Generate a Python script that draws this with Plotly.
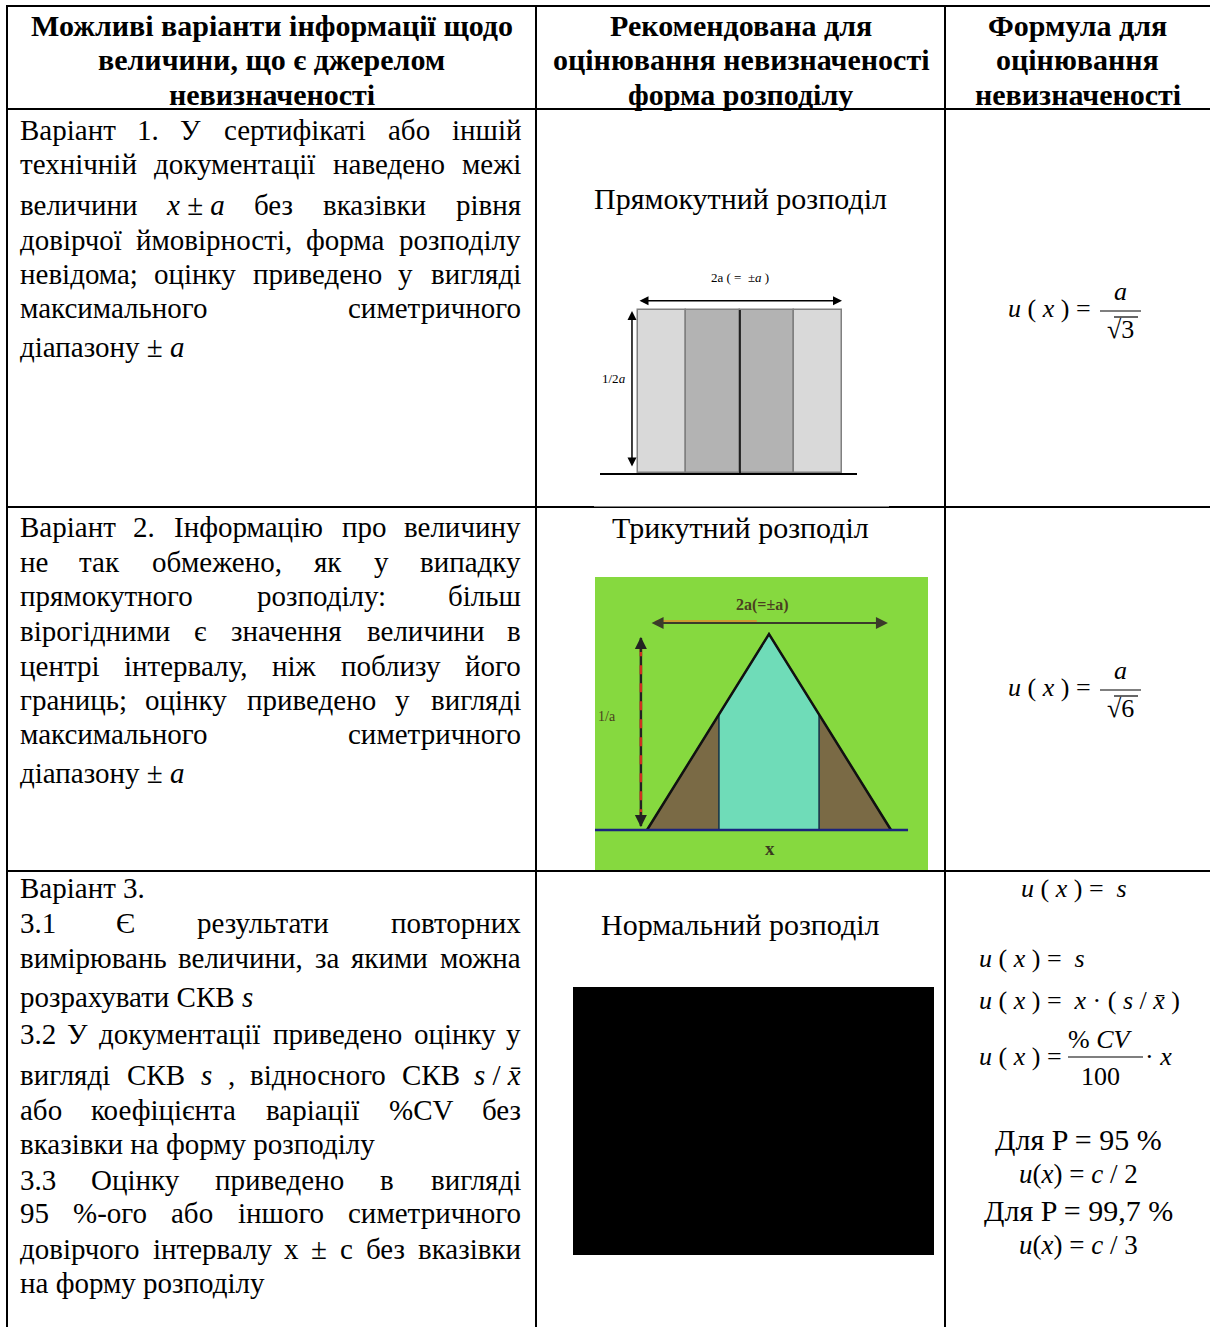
import re
import plotly.graph_objects as go

FONT = "Liberation Serif"
W_PX, H_PX = 1210, 1327

HEADERS = [
    ["Можливі варіанти інформації щодо", "величини, що є джерелом", "невизначеності"],
    ["Рекомендована для", "оцінювання невизначеності", "форма розподілу"],
    ["Формула для", "оцінювання", "невизначеності"],
]

ROW1_LINES = [
    ("Варіант 1. У сертифікаті або іншій", True),
    ("технічній документації наведено межі", True),
    ("величини <i>x</i>\u00a0±\u00a0<i>a</i> без вказівки рівня", True),
    ("довірчої ймовірності, форма розподілу", True),
    ("невідома; оцінку приведено у вигляді", True),
    ("максимального симетричного", True),
    ("діапазону ±\u00a0<i>a</i>", False),
]
ROW2_LINES = [
    ("Варіант 2. Інформацію про величину", True),
    ("не так обмежено, як у випадку", True),
    ("прямокутного розподілу: більш", True),
    ("вірогідними є значення величини в", True),
    ("центрі інтервалу, ніж поблизу його", True),
    ("границь; оцінку приведено у вигляді", True),
    ("максимального симетричного", True),
    ("діапазону ±\u00a0<i>a</i>", False),
]
ROW3_LINES = [
    ("Варіант 3.", False),
    ("3.1 Є результати повторних", True),
    ("вимірювань величини, за якими можна", True),
    ("розрахувати СКВ <i>s</i>", False),
    ("3.2 У документації приведено оцінку у", True),
    ("вигляді СКВ <i>s</i> , відносного СКВ <i>s</i>\u00a0/\u00a0<i>x̄</i>", True),
    ("або коефіцієнта варіації %CV без", True),
    ("вказівки на форму розподілу", False),
    ("3.3 Оцінку приведено в вигляді", True),
    ("95 %-ого або іншого симетричного", True),
    ("довірчого інтервалу x ± c без вказівки", True),
    ("на форму розподілу", False),
]
DIST_TITLES = ["Прямокутний розподіл", "Трикутний розподіл", "Нормальний розподіл"]

# rectangular distribution (units of a)
RECT_EDGES = [-1.0, -0.53, 0.0, 0.53, 1.0]
RECT_HEIGHT = [0.5, 0.5, 0.5, 0.5]
RECT_COLORS = ["#d9d9d9", "#b3b3b3", "#b3b3b3", "#d9d9d9"]

# triangular distribution
TRI_X = [-1, 0, 1]
TRI_Y = [0, 1, 0]
TRI_MID_X = [-0.41, -0.41, 0, 0.41, 0.41]
TRI_MID_Y = [0, 0.59, 1, 0.59, 0]
TRI_LEFT_X = [-1, -0.41, -0.41]
TRI_LEFT_Y = [0, 0.59, 0]
TRI_RIGHT_X = [1, 0.41, 0.41]
TRI_RIGHT_Y = [0, 0.59, 0]

# layout (pixels)
COL_EDGES = [7, 536, 945, 1210]
ROW_EDGES = [6, 109, 507, 871]
HEADER_Y = [25, 59, 94]
LEFT_Y = [
    [130, 164, 205, 240, 274, 308, 347],
    [527, 562, 596, 631, 666, 700, 734, 773],
    [888, 923, 958, 997, 1034, 1075, 1110, 1144, 1180, 1213, 1249, 1283],
]
TITLE_Y = [198, 527, 924]
TEXT_SIZE = 29
MATH_SIZE = 26

# approximate Times glyph widths (em), used to justify the left column
CHAR_W = {
    "а": .444, "б": .509, "в": .472, "г": .41, "д": .509, "е": .444, "є": .44,
    "ж": .691, "з": .395, "и": .535, "і": .278, "ї": .278, "й": .535, "к": .486,
    "л": .499, "м": .633, "н": .535, "о": .5, "п": .535, "р": .5, "с": .444,
    "т": .437, "у": .5, "ф": .648, "х": .5, "ц": .535, "ч": .503, "ш": .77,
    "щ": .77, "ь": .456, "ю": .747, "я": .492, "В": .667, "С": .667, "К": .708,
    "Є": .667, "І": .333, "У": .709, "О": .722, "П": .722, "Д": .668, "Ф": .79,
    "Т": .611, "Н": .722, "C": .667, "V": .722, "P": .556, " ": .25, ".": .25,
    ",": .25, ";": .278, ":": .278, "%": .833, "-": .333, "±": .549, "/": .278,
    "x": .444, "a": .5, "s": .389, "c": .444, "\u0304": 0,
}


def text_w(s, size):
    plain = re.sub(r"<[^>]+>", "", s).replace("\u00a0", " ")
    return sum(CHAR_W.get(ch, .5) for ch in plain) * size


fig = go.Figure()
ann = []
shapes = []


def txt(x, y, s, size=TEXT_SIZE, xanchor="center", bold=False, color="black", xref="x", yref="y"):
    if bold:
        s = f"<b>{s}</b>"
    ann.append(dict(x=x, y=y, xref=xref, yref=yref, text=s, showarrow=False,
                    xanchor=xanchor, yanchor="middle", borderpad=0,
                    font=dict(family=FONT, size=size, color=color)))


def add_line(s, y, justify, x0=19, x1=522):
    if not justify:
        txt(x0, y, s, xanchor="left")
        return
    words = s.split(" ")
    ws = [text_w(w, TEXT_SIZE) for w in words]
    gap = (x1 - x0 - sum(ws)) / (len(words) - 1)
    x = x0
    for i, (w, wd) in enumerate(zip(words, ws)):
        if i == 0:
            txt(x0, y, w, xanchor="left")
        elif i == len(words) - 1:
            txt(x1, y, w, xanchor="right")
        else:
            txt(x + wd / 2, y, w)
        x += wd + gap


def arrow(x, y, ax, ay, xr, yr, color="black", width=1.5, both=True):
    ann.append(dict(x=x, y=y, ax=ax, ay=ay, xref=xr, yref=yr, axref=xr, ayref=yr,
                    text="", showarrow=True, arrowhead=2, arrowsize=1.2,
                    arrowside="end+start" if both else "end",
                    arrowwidth=width, arrowcolor=color))


# table lines
for y in ROW_EDGES:
    shapes.append(dict(type="line", xref="x", yref="y", x0=COL_EDGES[0] - 1, x1=W_PX,
                       y0=y, y1=y, line=dict(color="black", width=2)))
for x in COL_EDGES[:3]:
    shapes.append(dict(type="line", xref="x", yref="y", x0=x, x1=x,
                       y0=ROW_EDGES[0] - 1, y1=H_PX, line=dict(color="black", width=2)))
# white margin of the picture over the row line
shapes.append(dict(type="rect", xref="x", yref="y", x0=594, x1=889, y0=503, y1=506.5,
                   fillcolor="white", line=dict(width=0)))

# headers
centers = [(COL_EDGES[i] + COL_EDGES[i + 1]) / 2 for i in range(3)]
for c, lines in zip(centers, HEADERS):
    for s, y in zip(lines, HEADER_Y):
        txt(c, y, s, size=30, bold=True)

# left column
for lines, ys in zip([ROW1_LINES, ROW2_LINES, ROW3_LINES], LEFT_Y):
    for (s, j), y in zip(lines, ys):
        add_line(s, y, j)

# distribution titles
for s, y in zip(DIST_TITLES, TITLE_Y):
    txt(centers[1], y, s, size=30)

# rectangular distribution
rc = [(RECT_EDGES[i] + RECT_EDGES[i + 1]) / 2 for i in range(4)]
rw = [RECT_EDGES[i + 1] - RECT_EDGES[i] for i in range(4)]
fig.add_trace(go.Bar(x=rc, y=RECT_HEIGHT, width=rw, xaxis="x2", yaxis="y2",
                     marker=dict(color=RECT_COLORS, line=dict(color="#808080", width=1.5))))
shapes.append(dict(type="line", xref="x2", yref="y2", x0=0, x1=0, y0=0, y1=RECT_HEIGHT[1],
                   line=dict(color="black", width=1.5)))
arrow(RECT_EDGES[-1], 0.528, RECT_EDGES[0], 0.528, "x2", "y2")
arrow(-1.059, 0.497, -1.059, 0.015, "x2", "y2")
txt(0, 0.601, "2a ( =  ±<i>a</i> )", size=13, xref="x2", yref="y2")
txt(-1.235, 0.291, "1/2<i>a</i>", size=13, xref="x2", yref="y2")
txt(0, -0.04, "x", size=17, bold=True, xref="x2", yref="y2")

# triangular distribution
shapes.append(dict(type="rect", xref="x3 domain", yref="y3 domain", x0=0, x1=1, y0=0, y1=1,
                   fillcolor="#86d93f", line=dict(width=0), layer="below"))
for xs, ys, col in [(TRI_LEFT_X, TRI_LEFT_Y, "#7a6a45"), (TRI_RIGHT_X, TRI_RIGHT_Y, "#7a6a45"),
                    (TRI_MID_X, TRI_MID_Y, "#6fdcb8")]:
    fig.add_trace(go.Scatter(x=xs, y=ys, fill="toself", fillcolor=col, mode="lines",
                             line=dict(color="#1f3a4a", width=1.5), xaxis="x3", yaxis="y3"))
fig.add_trace(go.Scatter(x=TRI_X, y=TRI_Y, mode="lines", line=dict(color="#111111", width=2.5),
                         xaxis="x3", yaxis="y3"))
shapes.append(dict(type="line", xref="x3 domain", yref="y3", x0=0.0, x1=0.94, y0=0, y1=0,
                   line=dict(color="#1a237e", width=2.5)))
arrow(0.975, 1.056, -0.975, 1.056, "x3", "y3", color="#3b3b2a", width=2)
shapes.append(dict(type="line", xref="x3", yref="y3", x0=-0.93, x1=-0.1, y0=1.066, y1=1.066,
                   line=dict(color="#e08a2a", width=1.5)))
# vertical dashed arrow: black shaft with red dashes, heads as short arrows
shapes.append(dict(type="line", xref="x3", yref="y3", x0=-1.05, x1=-1.05, y0=0.02, y1=0.98,
                   line=dict(color="#222222", width=2.5)))
shapes.append(dict(type="line", xref="x3", yref="y3", x0=-1.05, x1=-1.05, y0=0.06, y1=0.94,
                   line=dict(color="#d03020", width=2.5, dash="dash")))
arrow(-1.05, 0.985, -1.05, 0.9, "x3", "y3", color="#222222", width=2, both=False)
arrow(-1.05, 0.015, -1.05, 0.1, "x3", "y3", color="#222222", width=2, both=False)
txt(-0.057, 1.148, "<b>2a(=±a)</b>", size=16, color="#4a4020", xref="x3", yref="y3")
txt(-1.328, 0.577, "1/a", size=14, color="#4a4020", xref="x3", yref="y3")
txt(0.008, -0.092, "x", size=19, bold=True, color="#3a3a20", xref="x3", yref="y3")

# normal distribution (picture shown black)
shapes.append(dict(type="rect", xref="x", yref="y", x0=573, x1=934, y0=987, y1=1255,
                   fillcolor="black", line=dict(width=0)))

# formulas
UX = "<i>u</i> ( <i>x</i> ) ="
for yc, d in [(308, "3"), (687, "6")]:
    txt(1092, yc, UX, size=MATH_SIZE, xanchor="right")
    txt(1120, yc - 17, "<i>a</i>", size=MATH_SIZE)
    shapes.append(dict(type="line", xref="x", yref="y", x0=1100, x1=1141, y0=yc + 3, y1=yc + 3,
                       line=dict(color="black", width=1.2)))
    txt(1120, yc + 21, "√" + d, size=MATH_SIZE)
    shapes.append(dict(type="line", xref="x", yref="y", x0=1114, x1=1138, y0=yc + 9, y1=yc + 9,
                       line=dict(color="black", width=1.2)))

txt(1074, 888, UX + "  <i>s</i>", size=MATH_SIZE)
txt(978, 958, UX + "  <i>s</i>", size=MATH_SIZE, xanchor="left")
txt(978, 1000, UX + "  <i>x</i> · ( <i>s</i> / <i>x̄</i> )", size=MATH_SIZE, xanchor="left")
txt(978, 1056, UX, size=MATH_SIZE, xanchor="left")
txt(1100, 1039, "% <i>CV</i>", size=MATH_SIZE)
shapes.append(dict(type="line", xref="x", yref="y", x0=1068, x1=1143, y0=1057, y1=1057,
                   line=dict(color="black", width=1.2)))
txt(1100, 1076, "100", size=MATH_SIZE)
txt(1144, 1056, "· <i>x</i>", size=MATH_SIZE, xanchor="left")
txt(1078, 1139, "Для P = 95 %", size=30)
txt(1078, 1174, "<i>u</i>(<i>x</i>) = <i>c</i> / 2", size=MATH_SIZE + 1)
txt(1078, 1210, "Для P = 99,7 %", size=30)
txt(1078, 1245, "<i>u</i>(<i>x</i>) = <i>c</i> / 3", size=MATH_SIZE + 1)

hidden = dict(visible=False, fixedrange=True)
fig.update_layout(
    width=W_PX, height=H_PX,
    margin=dict(l=0, r=0, t=0, b=0),
    paper_bgcolor="white", plot_bgcolor="rgba(0,0,0,0)",
    showlegend=False, hovermode=False, barmode="overlay", bargap=0,
    xaxis=dict(range=[0, W_PX], domain=[0, 1], **hidden),
    yaxis=dict(range=[H_PX, 0], domain=[0, 1], **hidden),
    xaxis2=dict(range=[(600 - 740) / 102, (857 - 740) / 102], domain=[600 / W_PX, 857 / W_PX],
                showline=True, linecolor="black", linewidth=2, showgrid=False, zeroline=False,
                showticklabels=False, ticks="", fixedrange=True, anchor="y2"),
    yaxis2=dict(range=[0, 213 / 326], domain=[1 - 473 / H_PX, 1 - 260 / H_PX], anchor="x2", **hidden),
    xaxis3=dict(range=[(595 - 769) / 122, (928 - 769) / 122], domain=[595 / W_PX, 928 / W_PX],
                anchor="y3", **hidden),
    yaxis3=dict(range=[(830 - 870) / 196, (830 - 577) / 196], domain=[1 - 870 / H_PX, 1 - 577 / H_PX],
                anchor="x3", **hidden),
    annotations=ann, shapes=shapes,
)
fig.write_html("out.html", config={"displayModeBar": False},
               post_script="document.body.style.margin='0';")
